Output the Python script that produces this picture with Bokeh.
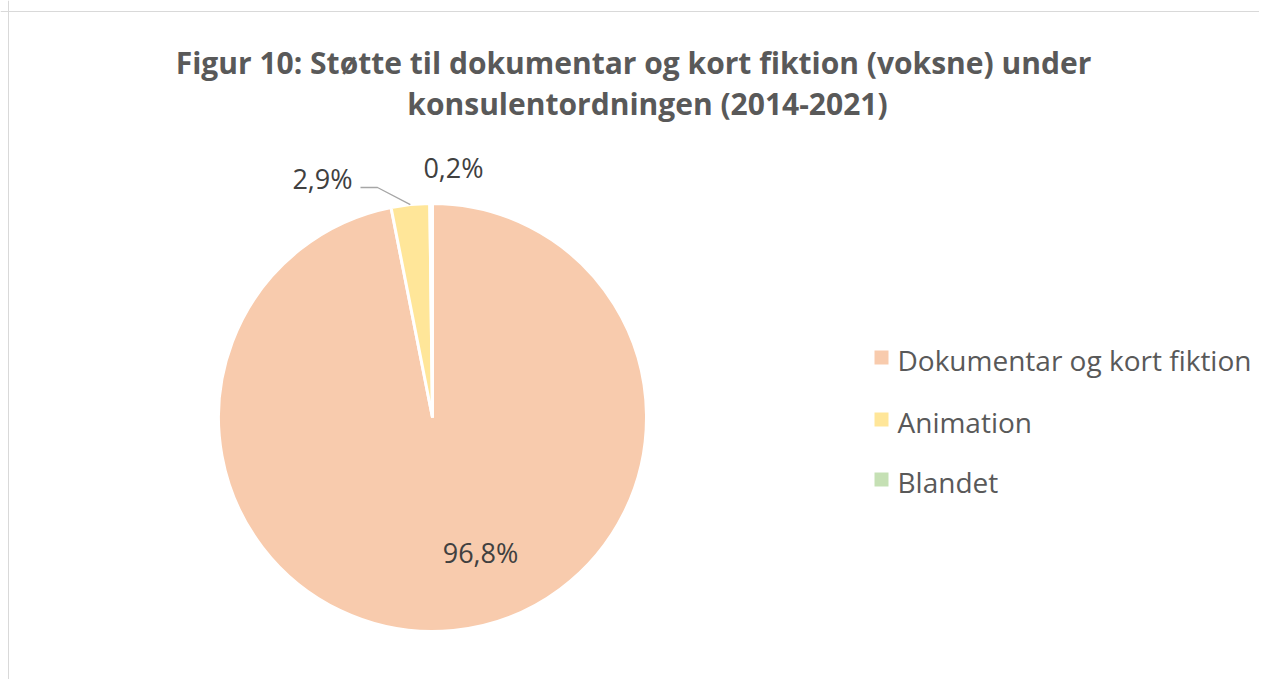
import math
from bokeh.plotting import figure
from bokeh.models import Range1d, Span
from bokeh.core.properties import value
from bokeh.embed import file_html
from bokeh.resources import INLINE

# ---- data ----
categories = ["Dokumentar og kort fiktion", "Animation", "Blandet"]
shares = [96.8, 2.9, 0.2]
colors = ["#F8CBAD", "#FFE699", "#C5E0B4"]
title_lines = ["Figur 10: Støtte til dokumentar og kort fiktion (voksne) under",
               "konsulentordningen (2014-2021)"]

W, H = 1259, 679
FONT = "Open Sans"


def sx(x):
    return x


def sy(y):
    return H - y


p = figure(width=W, height=H, output_backend="svg", toolbar_location=None,
           x_range=Range1d(0, W), y_range=Range1d(0, H),
           x_axis_type=None, y_axis_type=None, min_border=0)
p.grid.visible = False
p.outline_line_color = None
p.background_fill_color = "white"
p.border_fill_color = "white"

# chart-area border (top and left visible in window)
p.add_layout(Span(location=sy(11), dimension="width", line_color="#D9D9D9", line_width=1))
p.add_layout(Span(location=sx(8), dimension="height", line_color="#D9D9D9", line_width=1))

# ---- title ----
title_pos = [(633, 62), (647, 103)]
for line, (tx, ty) in zip(title_lines, title_pos):
    p.text(x=[sx(tx)], y=[sy(ty)], text=[line], text_font=value(FONT),
           text_font_style="bold", text_font_size="30px", text_color="#595959",
           text_align="center", text_baseline="middle")

# ---- pie ----
cx, cy, R = sx(432), sy(417), 214
total = sum(shares)
cum = 0.0
starts, ends, mids = [], [], []
for s in shares:
    a0 = math.pi / 2 - 2 * math.pi * cum / total
    cum += s
    a1 = math.pi / 2 - 2 * math.pi * cum / total
    starts.append(a0)
    ends.append(a1)
    mids.append((a0 + a1) / 2)

p.wedge(x=[cx] * len(shares), y=[cy] * len(shares), radius=R,
        start_angle=starts, end_angle=ends, direction="clock",
        fill_color=colors, line_color="white", line_width=3)

# ---- data labels ----
labels = [f"{s:.1f}%".replace(".", ",") for s in shares]
label_pos = [(480, 552), (322, 178), (453, 167)]
for lab, (lx, ly) in zip(labels, label_pos):
    p.text(x=[sx(lx)], y=[sy(ly)], text=[lab], text_font=value(FONT),
           text_font_size="27px", text_color="#404040",
           text_align="center", text_baseline="middle")

# leader line for the Animation slice
m = mids[1]
ex, ey = cx + R * math.cos(m), cy + R * math.sin(m)
p.line(x=[sx(360), sx(377), ex], y=[sy(187), sy(187), ey],
       line_color="#A6A6A6", line_width=1.3)

# ---- legend ----
leg_y = [357, 419, 479]
p.scatter(x=[sx(881)] * 3, y=[sy(v) for v in leg_y], marker="square", size=14,
          fill_color=colors, line_color=None)
p.text(x=[sx(897)] * 3, y=[sy(v + 2) for v in leg_y], text=categories,
       text_font=value(FONT), text_font_size="28px", text_color="#595959",
       text_align="left", text_baseline="middle")

open("out.html", "w").write(file_html(p, INLINE))
